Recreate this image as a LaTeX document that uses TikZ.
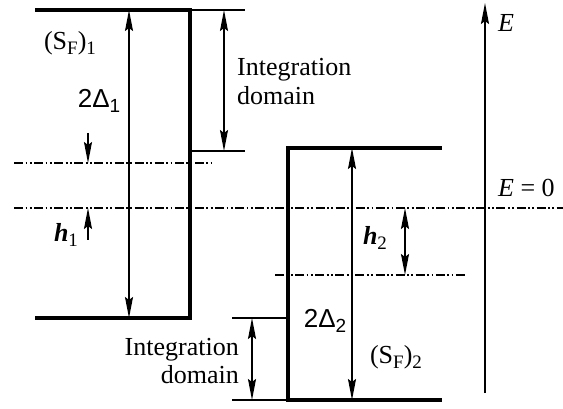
\documentclass[tikz,border=0pt]{standalone}
\usepackage{fontspec}
\setmainfont{Liberation Serif}
\newfontfamily\sansf{Liberation Sans}
\usetikzlibrary{arrows.meta}
\newcommand{\lsub}[1]{\raisebox{-0.4ex}{\fontsize{19}{19}\selectfont #1}}
\tikzset{
  thickline/.style={line width=3.2pt, line cap=rect},
  thinline/.style={line width=1.6pt},
  dashdot2/.style={line width=1.6pt, dash pattern=on 9pt off 2.5pt on 1.8pt off 2.5pt on 1.8pt off 2.5pt},
  tipA/.tip={Stealth[length=21pt,width=8pt,inset=3pt]},
  dimarrow/.style={line width=1.8pt, tipA-tipA},
  onearrow/.style={line width=1.8pt, -tipA},
  lbl/.style={inner sep=0pt, font=\fontsize{26}{30}\selectfont},
}
\begin{document}
\begin{tikzpicture}[x=1pt,y=-1pt]
\useasboundingbox (0,0) rectangle (563,409);
% key coordinates
\coordinate (t1l) at (37,10);
\coordinate (t1r) at (190,10);
\coordinate (b1r) at (190,318);
\coordinate (b1l) at (37,318);
\coordinate (t1x) at (245,10);
\coordinate (m1r) at (190,151);
\coordinate (m1x) at (245,151);
\coordinate (i1a) at (224,10);
\coordinate (i1b) at (224,151);
\coordinate (d1a) at (14,163);
\coordinate (d1b) at (212,163);
\coordinate (z0a) at (14,208);
\coordinate (z0b) at (563,208);
\coordinate (a1t) at (129,10);
\coordinate (a1b) at (129,318);
\coordinate (h1s) at (88,133);
\coordinate (h1e) at (88,163);
\coordinate (h1u) at (88,240);
\coordinate (h1z) at (88,208);
\coordinate (t2r) at (440,148);
\coordinate (t2l) at (288,148);
\coordinate (b2l) at (288,400);
\coordinate (b2r) at (440,400);
\coordinate (a2t) at (352,148);
\coordinate (a2b) at (352,400);
\coordinate (d2a) at (275,275);
\coordinate (d2b) at (465,275);
\coordinate (h2t) at (405,208);
\coordinate (h2b) at (405,275);
\coordinate (l2a) at (232,318);
\coordinate (l2b) at (232,400);
\coordinate (i2a) at (252,318);
\coordinate (i2b) at (252,400);
\coordinate (e0) at (485,393);
\coordinate (e1) at (485,3);

% left block
\draw[thickline, line join=miter] (t1l) -- (t1r) -- (b1r) -- (b1l);
\draw[thinline] (t1r) -- (t1x);
\draw[thinline] (m1r) -- (m1x);
\draw[dimarrow] (i1a) -- (i1b);
\draw[dimarrow] (a1t) -- (a1b);
% dash-dot lines
\draw[dashdot2] (d1a) -- (d1b);
\draw[dashdot2] (z0a) -- (z0b);
\draw[dashdot2] (d2a) -- (d2b);
% h1
\draw[onearrow] (h1s) -- (h1e);
\draw[onearrow] (h1u) -- (h1z);
% right block
\draw[thickline, line join=miter] (t2r) -- (t2l) -- (b2l) -- (b2r);
\draw[dimarrow] (a2t) -- (a2b);
\draw[dimarrow] (h2t) -- (h2b);
% lower integration domain
\draw[thinline] (l2a) -- (b1r -| t2l) ;
\draw[thinline] (l2b) -- (b2l);
\draw[dimarrow] (i2a) -- (i2b);
% E axis
\draw[onearrow] (e0) -- (e1);

% labels
\node[lbl] (sf1) at (70,43) {(S\lsub{F})\lsub{1}};
\node[lbl] (del1) at (99,101) {\sansf 2Δ\lsub{\sansf 1}};
\node[lbl] (h1) at (66,235) {\textbf{\textit{h}}\lsub{1}};
\node[lbl, anchor=base west] (int1a) at (237,76) {Integration};
\node[lbl, anchor=base west] (int1b) at (237,105) {domain};
\node[lbl, anchor=base east] (int2a) at (239,355) {Integration};
\node[lbl, anchor=base east] (int2b) at (239,383) {domain};
\node[lbl] (h2) at (375,238) {\textbf{\textit{h}}\lsub{2}};
\node[lbl] (del2) at (325,321) {\sansf 2Δ\lsub{\sansf 2}};
\node[lbl] (sf2) at (396,357) {(S\lsub{F})\lsub{2}};
\node[lbl, anchor=base west] (elab) at (498,32) {\textit{E}};
\node[lbl, anchor=base west] (ezero) at (498,197) {\textit{E} = 0};
\end{tikzpicture}
\end{document}
